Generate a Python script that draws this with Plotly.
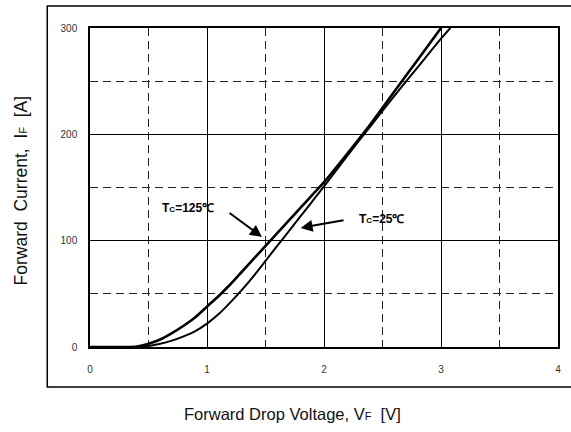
import plotly.graph_objects as go

# Forward characteristics
v_125 = [0.0, 0.3, 0.4, 0.5, 0.6, 0.7, 0.8, 0.9, 1.0, 1.1, 1.2, 1.3, 1.4, 1.5,
         1.6, 1.7, 1.8, 1.9, 2.0, 2.2, 2.4, 2.6, 2.8, 3.0]
i_125 = [0, 0, 0.5, 3, 7, 13, 20, 28, 38, 48, 59, 71, 83, 95,
         107, 119, 131, 143, 155, 182, 210, 240, 270, 300]

v_25 = [0.0, 0.4, 0.5, 0.6, 0.7, 0.8, 0.9, 1.0, 1.1, 1.2, 1.3, 1.4, 1.5,
        1.6, 1.7, 1.8, 1.9, 2.0, 2.2, 2.4, 2.6, 2.8, 3.0, 3.08]
i_25 = [0, 0, 1, 3, 6, 10, 15, 22, 31, 42, 54, 67, 81,
        95, 109, 123, 137, 151, 180, 208, 236, 263, 290, 300]

x_ticks = [0, 1, 2, 3, 4]
y_ticks = [0, 100, 200, 300]

FONT = "Liberation Sans, Arial, sans-serif"

fig = go.Figure()
fig.add_trace(go.Scatter(x=v_125, y=i_125, mode="lines", line=dict(color="black", width=2.6),
                         line_shape="spline", line_smoothing=0.8, showlegend=False))
fig.add_trace(go.Scatter(x=v_25, y=i_25, mode="lines", line=dict(color="black", width=2.0),
                         line_shape="spline", line_smoothing=0.8, showlegend=False))

# labels and arrows
fig.add_annotation(x=0.84, y=131, text="<b>T<span style='font-size:8px'>C</span>=125℃</b>",
                   showarrow=False, font=dict(family=FONT, size=12, color="black"))
fig.add_annotation(x=1.47, y=103.5, ax=1.18, ay=127, axref="x", ayref="y", text="",
                   showarrow=True, arrowhead=2, arrowsize=1.2, arrowwidth=2, arrowcolor="black")
fig.add_annotation(x=2.49, y=120, text="<b>T<span style='font-size:8px'>C</span>=25℃</b>",
                   showarrow=False, font=dict(family=FONT, size=12, color="black"))
fig.add_annotation(x=1.80, y=112, ax=2.18, ay=119.5, axref="x", ayref="y", text="",
                   showarrow=True, arrowhead=2, arrowsize=1.2, arrowwidth=2, arrowcolor="black")

# axis titles (placed as in the reference)
fig.add_annotation(xref="paper", yref="paper", x=0.433, y=-0.21, xanchor="center", yanchor="middle",
                   text="Forward Drop Voltage, V<span style='font-size:11px'>F</span>&nbsp;&nbsp;[V]",
                   showarrow=False, font=dict(family=FONT, size=16.5, color="#111"))
fig.add_annotation(xref="paper", yref="paper", x=-0.148, y=0.49, xanchor="center", yanchor="middle",
                   textangle=-90,
                   text="Forward&nbsp;&nbsp;Current,&nbsp;&nbsp;I<span style='font-size:11px'>F</span>&nbsp;&nbsp;[A]",
                   showarrow=False, font=dict(family=FONT, size=17.5, color="#111"))

# outer frame
fig.add_shape(type="rect", xref="paper", yref="paper", x0=-0.0913, x1=1.05, y0=-0.125, y1=1.069,
              line=dict(color="black", width=1.5), fillcolor="rgba(0,0,0,0)", layer="below")

fig.update_layout(
    width=571, height=432,
    margin=dict(l=90, r=10, t=28, b=85),
    paper_bgcolor="white", plot_bgcolor="white",
    font=dict(family=FONT, color="#333"),
    xaxis=dict(
        range=[0, 4], tickvals=x_ticks, ticks="", showline=True, mirror=True,
        linecolor="black", linewidth=1.5,
        showgrid=True, gridcolor="black", gridwidth=1, zeroline=False,
        minor=dict(dtick=0.5, showgrid=True, gridcolor="#222", gridwidth=1.3, griddash="8px,5px"),
        tickfont=dict(size=10, color="#333"), ticklabelstandoff=12,
    ),
    yaxis=dict(
        range=[0, 300], tickvals=y_ticks, ticks="", showline=True, mirror=True,
        linecolor="black", linewidth=1.5,
        showgrid=True, gridcolor="black", gridwidth=1, zeroline=False,
        minor=dict(dtick=50, showgrid=True, gridcolor="#222", gridwidth=1.3, griddash="8px,5px"),
        tickfont=dict(size=10, color="#333"), ticklabelstandoff=9,
    ),
)

fig.write_html("out.html")
